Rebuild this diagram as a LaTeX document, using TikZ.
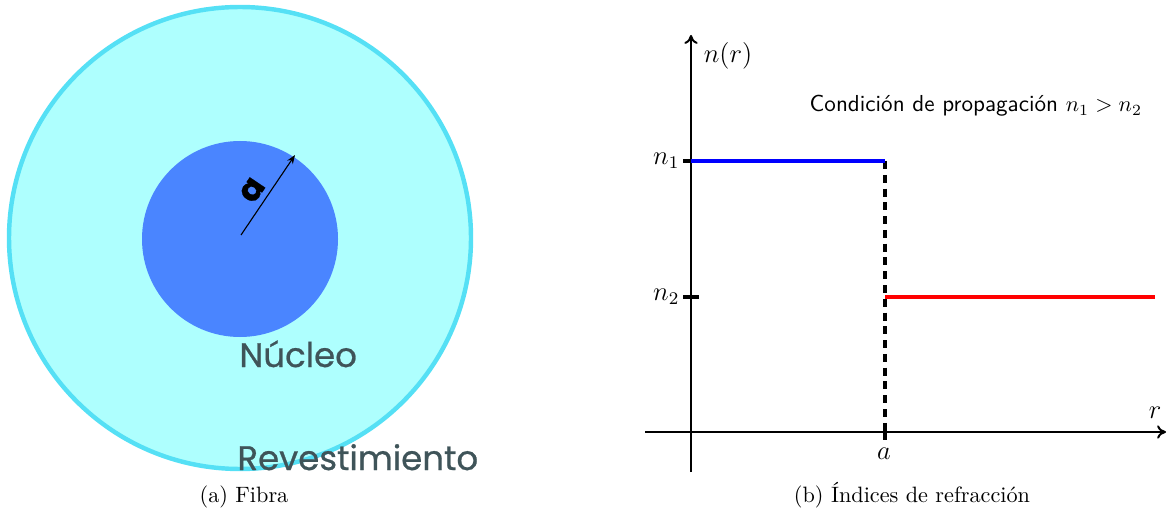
\documentclass[tikz,border=0pt]{standalone}
\usepackage{fontspec}
\usetikzlibrary{arrows.meta}
\newfontfamily\popfont{Poppins}[FakeBold=0.7]
\definecolor{cladfill}{HTML}{AEFFFE}
\definecolor{cladedge}{HTML}{55E0F5}
\definecolor{corefill}{HTML}{4A85FF}
\definecolor{labgray}{HTML}{3F5459}
\definecolor{nblue}{HTML}{0000FF}
\definecolor{nred}{HTML}{FF0000}
\tikzset{
  axisline/.style={line width=0.9pt},
  tickmark/.style={line width=1.8pt},
  fiblabel/.style={font=\popfont\fontsize{15.3}{18}\selectfont, text=labgray, inner sep=0pt},
  caption/.style={font=\rmfamily\fontsize{10}{12}\selectfont, inner sep=0pt},
  mathlab/.style={font=\fontsize{12}{14}\selectfont, inner sep=1pt},
}
\begin{document}
\begin{tikzpicture}[x=0.45pt,y=-0.45pt]
\useasboundingbox (0,0) rectangle (1167,515);
% ---------- (a) fibre ----------
\coordinate (C) at (240,238);
\fill[cladfill] (C) circle[radius=231];
\draw[cladedge, line width=2pt] (C) circle[radius=231];
\fill[corefill] (240,239) circle[radius=98];
\coordinate (rs) at (241,235);
\coordinate (re) at (295,155);
\draw[line width=0.5pt, -{Stealth[length=4pt,width=3pt]}] (rs) -- (re)
  node[pos=0.45, sloped, above=2.5pt, font=\popfont\bfseries\fontsize{15}{17}\selectfont, inner sep=0pt] (alab) {a};
\node[fiblabel, anchor=base west] (nuc) at (239,367) {Núcleo};
\node[fiblabel, anchor=base west] (rev) at (237,470) {Revestimiento};
\node[caption, anchor=base] (capa) at (244,502) {(a) Fibra};
% ---------- (b) index profile ----------
\coordinate (O) at (691,432);
\coordinate (ytop) at (691,35);
\coordinate (ybot) at (691,472);
\coordinate (xl) at (645,432);
\coordinate (xr) at (1166,432);
\draw[axisline, -{To[length=4pt,width=6pt]}] (ybot) -- (ytop);
\draw[axisline, -{To[length=4pt,width=6pt]}] (xl) -- (xr);
\coordinate (n1a) at (691,161);
\coordinate (n1b) at (885,161);
\coordinate (n2a) at (885,297);
\coordinate (n2b) at (1155,297);
\coordinate (aa) at (885,432);
\draw[tickmark] (683,161) -- (n1a);
\draw[tickmark] (683,297) -- (699,297);
\draw[tickmark] (885,424) -- (885,440);
\draw[line width=1.8pt, dash pattern=on 3.6pt off 2.6pt] (n1b) -- (aa);
\draw[nblue, line width=1.8pt] (n1a) -- (n1b);
\draw[nred, line width=1.8pt] (n2a) -- (n2b);
\node[mathlab, anchor=east] (ln1) at (682,161) {$n_1$};
\node[mathlab, anchor=east] (ln2) at (682,297) {$n_2$};
\node[mathlab] (lnr) at (728,56) {$n(r)$};
\node[mathlab] (la) at (884,454) {$a$};
\node[mathlab] (lr) at (1155,413) {$r$};
\node[mathlab, anchor=base west, font=\sffamily\fontsize{10.4}{12}\selectfont] (cond) at (807,112) {Condición de propagación $n_1>n_2$};
\node[caption, anchor=base] (capb) at (912,502) {(b) Índices de refracción};
\end{tikzpicture}
\end{document}
